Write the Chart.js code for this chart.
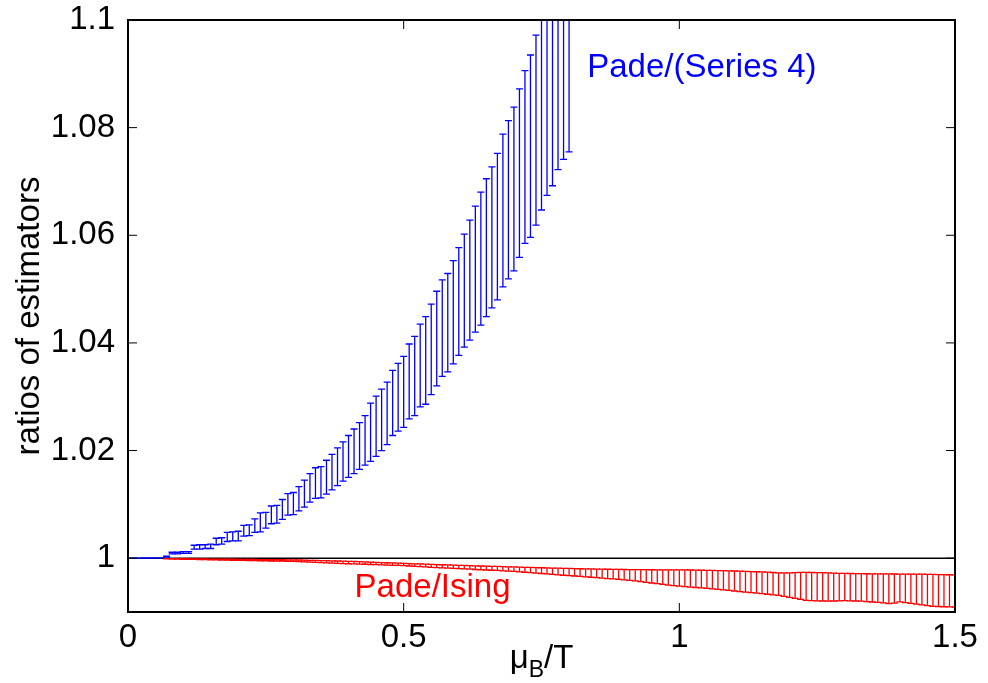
<!DOCTYPE html>
<html>
<head>
<meta charset="utf-8">
<script src="https://cdn.jsdelivr.net/npm/chart.js@4.4.1/dist/chart.umd.min.js"></script>
<style>
  html, body { margin: 0; padding: 0; background: #fff; }
  #wrap { width: 988px; height: 683px; }
</style>
</head>
<body>
<div id="wrap"><canvas id="grafico" width="988" height="683"></canvas></div>
<script>
// mu_B/T grid (every 0.01)
var muB = [
  0.01,0.02,0.03,0.04,0.05,0.06,0.07,0.08,0.09,0.10,
  0.11,0.12,0.13,0.14,0.15,0.16,0.17,0.18,0.19,0.20,
  0.21,0.22,0.23,0.24,0.25,0.26,0.27,0.28,0.29,0.30,
  0.31,0.32,0.33,0.34,0.35,0.36,0.37,0.38,0.39,0.40,
  0.41,0.42,0.43,0.44,0.45,0.46,0.47,0.48,0.49,0.50,
  0.51,0.52,0.53,0.54,0.55,0.56,0.57,0.58,0.59,0.60,
  0.61,0.62,0.63,0.64,0.65,0.66,0.67,0.68,0.69,0.70,
  0.71,0.72,0.73,0.74,0.75,0.76,0.77,0.78,0.79,0.80,
  0.81,0.82,0.83,0.84,0.85,0.86,0.87,0.88,0.89,0.90,
  0.91,0.92,0.93,0.94,0.95,0.96,0.97,0.98,0.99,1.00,
  1.01,1.02,1.03,1.04,1.05,1.06,1.07,1.08,1.09,1.10,
  1.11,1.12,1.13,1.14,1.15,1.16,1.17,1.18,1.19,1.20,
  1.21,1.22,1.23,1.24,1.25,1.26,1.27,1.28,1.29,1.30,
  1.31,1.32,1.33,1.34,1.35,1.36,1.37,1.38,1.39,1.40,
  1.41,1.42,1.43,1.44,1.45,1.46,1.47,1.48,1.49,1.50
];

// Pade/(Series 4): x = 0.01 .. 0.80
var serieHi = [
  1.00001,1.00002,1.00003,1.00004,1.00005,1.00007,1.0004,1.0011,1.0011,1.0012,
  1.0012,1.0024,1.0025,1.0025,1.0026,1.0037,1.0038,1.0048,1.0049,1.0050,
  1.0061,1.0062,1.0073,1.0084,1.0085,1.0097,1.0098,1.0109,1.0120,1.0122,
  1.0133,1.0145,1.0157,1.0168,1.0170,1.0182,1.0193,1.0205,1.0216,1.0228,
  1.0240,1.0252,1.0265,1.0288,1.0301,1.0314,1.0327,1.0349,1.0362,1.0375,
  1.0398,1.0412,1.0435,1.0449,1.0472,1.0496,1.0517,1.0529,1.0553,1.0577,
  1.0602,1.0628,1.0654,1.0680,1.0705,1.0727,1.0752,1.0788,1.0813,1.0838,
  1.0872,1.0906,1.0935,1.0972,1.1010,1.1050,1.1090,1.1130,1.1170,1.1210
];
var serieLo = [
  1.00000,1.00001,1.00002,1.00003,1.00004,1.00005,1.0002,1.0008,1.0008,1.0009,
  1.0009,1.0017,1.0017,1.0018,1.0018,1.0025,1.0026,1.0031,1.0032,1.0032,
  1.0041,1.0042,1.0048,1.0049,1.0056,1.0064,1.0065,1.0072,1.0080,1.0081,
  1.0088,1.0095,1.0104,1.0111,1.0112,1.0119,1.0127,1.0135,1.0143,1.0150,
  1.0157,1.0165,1.0173,1.0180,1.0189,1.0200,1.0211,1.0228,1.0236,1.0243,
  1.0259,1.0265,1.0281,1.0286,1.0304,1.0320,1.0338,1.0346,1.0361,1.0377,
  1.0392,1.0405,1.0420,1.0433,1.0449,1.0465,1.0480,1.0504,1.0519,1.0534,
  1.0559,1.0585,1.0596,1.0619,1.0647,1.0674,1.0692,1.0722,1.0741,1.0755
];

// Pade/Ising: x = 0.07 .. 1.50
var isingHi = [
  0.99992,0.99991,0.99990,0.99989,0.99988,0.99987,0.99986,0.99985,0.99984,0.99983,
  0.99982,0.99981,0.99980,0.99979,0.99978,0.99977,0.99976,0.99975,0.99974,0.99973,
  0.99972,0.99971,0.99969,0.99968,0.99966,0.99964,0.99961,0.99959,0.99956,0.99954,
  0.99951,0.99948,0.99945,0.99942,0.99939,0.99935,0.99931,0.99927,0.99923,0.99919,
  0.99915,0.99911,0.99907,0.99904,0.99900,0.99896,0.99893,0.99889,0.99885,0.99882,
  0.99878,0.99875,0.99871,0.99868,0.99865,0.99862,0.99858,0.99855,0.99852,0.99849,
  0.99846,0.99843,0.99840,0.99837,0.99834,0.99831,0.99828,0.99825,0.99822,0.99819,
  0.99817,0.99814,0.99812,0.99809,0.99807,0.99804,0.99802,0.99800,0.99798,0.99796,
  0.99794,0.99793,0.99791,0.99790,0.99789,0.99788,0.99787,0.99786,0.99785,0.99784,
  0.99784,0.99783,0.99783,0.99783,0.99782,0.99780,0.99778,0.99776,0.99774,0.99772,
  0.99769,0.99767,0.99764,0.99762,0.99759,0.99756,0.99752,0.99748,0.99744,0.99740,
  0.99734,0.99728,0.99726,0.99728,0.99732,0.99735,0.99735,0.99734,0.99732,0.99730,
  0.99726,0.99722,0.99719,0.99717,0.99715,0.99714,0.99712,0.99711,0.99710,0.99709,
  0.99708,0.99707,0.99706,0.99705,0.99705,0.99704,0.99703,0.99702,0.99700,0.99698,
  0.99696,0.99694,0.99692,0.99690
];
var isingLo = [
  0.99986,0.99984,0.99982,0.99980,0.99978,0.99976,0.99974,0.99972,0.99970,0.99968,
  0.99966,0.99964,0.99962,0.99960,0.99958,0.99956,0.99954,0.99952,0.99950,0.99948,
  0.99946,0.99944,0.99941,0.99939,0.99936,0.99932,0.99928,0.99923,0.99918,0.99913,
  0.99908,0.99904,0.99900,0.99897,0.99893,0.99890,0.99887,0.99883,0.99879,0.99875,
  0.99871,0.99868,0.99865,0.99860,0.99855,0.99849,0.99843,0.99837,0.99831,0.99825,
  0.99820,0.99815,0.99810,0.99805,0.99800,0.99795,0.99790,0.99785,0.99780,0.99776,
  0.99772,0.99766,0.99760,0.99753,0.99746,0.99739,0.99731,0.99723,0.99715,0.99707,
  0.99699,0.99691,0.99683,0.99676,0.99669,0.99661,0.99654,0.99646,0.99638,0.99630,
  0.99622,0.99614,0.99606,0.99598,0.99589,0.99578,0.99565,0.99552,0.99539,0.99526,
  0.99514,0.99501,0.99490,0.99481,0.99472,0.99463,0.99455,0.99447,0.99439,0.99431,
  0.99420,0.99410,0.99400,0.99390,0.99380,0.99370,0.99360,0.99350,0.99340,0.99330,
  0.99320,0.99308,0.99290,0.99272,0.99252,0.99234,0.99217,0.99210,0.99206,0.99204,
  0.99202,0.99204,0.99206,0.99210,0.99207,0.99204,0.99202,0.99194,0.99186,0.99180,
  0.99168,0.99154,0.99164,0.99188,0.99174,0.99161,0.99147,0.99134,0.99120,0.99106,
  0.99102,0.99098,0.99095,0.99093
];

var xTicks = [0, 0.5, 1, 1.5];
var yTicks = [1, 1.02, 1.04, 1.06, 1.08, 1.1];

var FONTE = '"Liberation Sans", Arial, Helvetica, sans-serif';

function barras(xs, lo, hi) {
  return xs.map(function (x, i) { return { x: x, y: (lo[i] + hi[i]) / 2, lo: lo[i], hi: hi[i] }; });
}

var serieX = muB.slice(0, serieHi.length);
var isingX = muB.slice(6, 6 + isingHi.length);

// desenha as barras de erro com as escalas do Chart.js
var pluginBarras = {
  id: 'barras',
  afterDatasetsDraw: function (chart) {
    var ctx = chart.ctx, sx = chart.scales.x, sy = chart.scales.y, a = chart.chartArea;
    ctx.save();
    ctx.beginPath();
    ctx.rect(a.left, a.top, a.right - a.left, a.bottom - a.top);
    ctx.clip();
    chart.data.datasets.forEach(function (ds) {
      if (!ds.errorBars) return;
      ctx.strokeStyle = ds.borderColor;
      ctx.lineWidth = 1.3;
      ds.data.forEach(function (p) {
        var x = sx.getPixelForValue(p.x);
        var y1 = sy.getPixelForValue(p.lo), y2 = sy.getPixelForValue(p.hi);
        ctx.beginPath();
        ctx.moveTo(x, y1); ctx.lineTo(x, y2);
        ctx.moveTo(x - 3.5, y1); ctx.lineTo(x + 3.5, y1);
        ctx.moveTo(x - 3.5, y2); ctx.lineTo(x + 3.5, y2);
        ctx.stroke();
      });
    });
    ctx.restore();
  }
};

// moldura, ticks para dentro, titulos e rotulos
var pluginMoldura = {
  id: 'moldura',
  afterDraw: function (chart) {
    var ctx = chart.ctx, sx = chart.scales.x, sy = chart.scales.y, a = chart.chartArea;
    ctx.save();
    ctx.strokeStyle = '#000';
    ctx.lineWidth = 1;
    ctx.beginPath();
    xTicks.forEach(function (v) {
      var x = sx.getPixelForValue(v);
      ctx.moveTo(x, a.bottom); ctx.lineTo(x, a.bottom - 9);
      ctx.moveTo(x, a.top); ctx.lineTo(x, a.top + 9);
    });
    yTicks.forEach(function (v) {
      var y = sy.getPixelForValue(v);
      ctx.moveTo(a.left, y); ctx.lineTo(a.left + 9, y);
      ctx.moveTo(a.right, y); ctx.lineTo(a.right - 9, y);
    });
    ctx.stroke();
    ctx.lineWidth = 2;
    ctx.strokeRect(a.left, a.top, a.right - a.left, a.bottom - a.top);

    // titulo eixo y
    ctx.fillStyle = '#000';
    ctx.font = '33px ' + FONTE;
    ctx.textAlign = 'center';
    ctx.textBaseline = 'middle';
    ctx.save();
    ctx.translate(30, (a.top + a.bottom) / 2);
    ctx.rotate(-Math.PI / 2);
    ctx.fillText('ratios of estimators', 0, 0);
    ctx.restore();

    // titulo eixo x: mu_B/T
    ctx.textAlign = 'left';
    ctx.textBaseline = 'alphabetic';
    ctx.font = '33px ' + FONTE;
    var wMu = ctx.measureText('\u03bc').width;
    var wT = ctx.measureText('/T').width;
    ctx.font = '23px ' + FONTE;
    var wB = ctx.measureText('B').width;
    var x0 = (a.left + a.right) / 2 - (wMu + wB + wT) / 2;
    var base = 668;
    ctx.font = '33px ' + FONTE;
    ctx.fillText('\u03bc', x0, base);
    ctx.font = '23px ' + FONTE;
    ctx.fillText('B', x0 + wMu, base + 9);
    ctx.font = '33px ' + FONTE;
    ctx.fillText('/T', x0 + wMu + wB, base);

    // rotulos das curvas
    ctx.textBaseline = 'middle';
    ctx.fillStyle = '#0000ff';
    ctx.fillText('Pade/(Series 4)', sx.getPixelForValue(0.833), sy.getPixelForValue(1.0911));
    ctx.fillStyle = '#ff0000';
    ctx.fillText('Pade/Ising', sx.getPixelForValue(0.411), sy.getPixelForValue(0.99444));
    ctx.restore();
  }
};

new Chart(document.getElementById('grafico').getContext('2d'), {
  type: 'scatter',
  data: {
    datasets: [
      {
        type: 'line',
        data: [{ x: 0, y: 1 }, { x: 1.5, y: 1 }],
        borderColor: '#000',
        borderWidth: 1.5,
        pointRadius: 0
      },
      {
        label: 'Pade/(Series 4)',
        data: barras(serieX, serieLo, serieHi),
        borderColor: '#0000ff',
        pointRadius: 0,
        showLine: false,
        errorBars: true
      },
      {
        label: 'Pade/Ising',
        data: barras(isingX, isingLo, isingHi),
        borderColor: '#ff0000',
        pointRadius: 0,
        showLine: false,
        errorBars: true
      }
    ]
  },
  options: {
    responsive: false,
    animation: false,
    devicePixelRatio: 1,
    layout: { padding: { top: 0, right: 33, left: 0, bottom: 0 } },
    plugins: { legend: { display: false }, tooltip: { enabled: false } },
    scales: {
      x: {
        type: 'linear',
        min: 0, max: 1.5,
        grid: { display: false, drawTicks: false },
        border: { display: false },
        afterBuildTicks: function (s) { s.ticks = xTicks.map(function (v) { return { value: v }; }); },
        afterFit: function (s) { s.height = 71; },
        ticks: {
          color: '#000', padding: 6, maxRotation: 0, autoSkip: false,
          font: { family: FONTE, size: 33 },
          callback: function (v) { return String(v); }
        }
      },
      y: {
        type: 'linear',
        min: 0.99, max: 1.1,
        grid: { display: false, drawTicks: false },
        border: { display: false },
        afterBuildTicks: function (s) { s.ticks = yTicks.map(function (v) { return { value: v }; }); },
        afterFit: function (s) { s.width = 128; s.paddingTop = 20; },
        ticks: {
          color: '#000', padding: 13, autoSkip: false,
          font: { family: FONTE, size: 33 },
          callback: function (v) { return String(v); }
        }
      }
    }
  },
  plugins: [pluginBarras, pluginMoldura]
});
</script>
</body>
</html>
